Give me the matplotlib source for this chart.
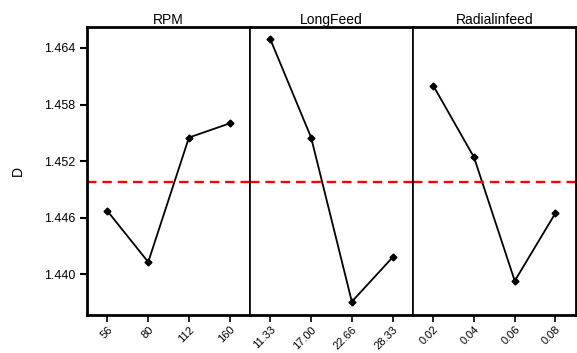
import matplotlib
matplotlib.use('Agg')
import matplotlib.pyplot as plt

plt.rcParams['font.family'] = ['Liberation Sans', 'DejaVu Sans']

factors = ['RPM', 'LongFeed', 'Radialinfeed']
levels = [
    ['56', '80', '112', '160'],
    ['11.33', '17.00', '22.66', '28.33'],
    ['0.02', '0.04', '0.06', '0.08'],
]
means = [
    [1.4467, 1.4413, 1.4545, 1.4560],
    [1.4649, 1.4545, 1.4371, 1.4418],
    [1.4600, 1.4524, 1.4393, 1.4465],
]
grand_mean = 1.4498
yticks = [1.440, 1.446, 1.452, 1.458, 1.464]

fig, axes = plt.subplots(1, 3, figsize=(5.77, 3.53), dpi=100, sharey=True)
fig.subplots_adjust(left=0.151, right=0.998, top=0.923, bottom=0.108, wspace=0)

for i, ax in enumerate(axes):
    x = list(range(1, len(levels[i]) + 1))
    ax.plot(x, means[i], color='black', lw=1.3, marker='D', ms=3.5)
    ax.axhline(grand_mean, color='red', ls='--', lw=1.7, dashes=(4, 2.5))
    ax.set_xlim(0.5, 4.5)
    ax.set_xticks(x)
    ax.set_xticklabels(levels[i], rotation=45, ha='right', rotation_mode='anchor', fontsize=8)
    ax.set_title(factors[i], fontsize=10, pad=2)
    ax.tick_params(axis='x', length=5, width=1.2, pad=2)
    for s in ax.spines.values():
        s.set_linewidth(1.2)
    ax.spines['top'].set_linewidth(2)
    ax.spines['bottom'].set_linewidth(2)
    if i == 0:
        ax.spines['left'].set_linewidth(2)
        ax.tick_params(axis='y', length=5, width=1.5, labelsize=9)
    else:
        ax.tick_params(axis='y', left=False)
    if i == 2:
        ax.spines['right'].set_linewidth(2)

axes[0].set_ylim(1.4357, 1.4662)
axes[0].set_yticks(yticks)
axes[0].set_yticklabels(['%.3f' % v for v in yticks])
axes[0].set_ylabel('D', fontsize=10, labelpad=14)

plt.savefig('out.png', dpi=100)
